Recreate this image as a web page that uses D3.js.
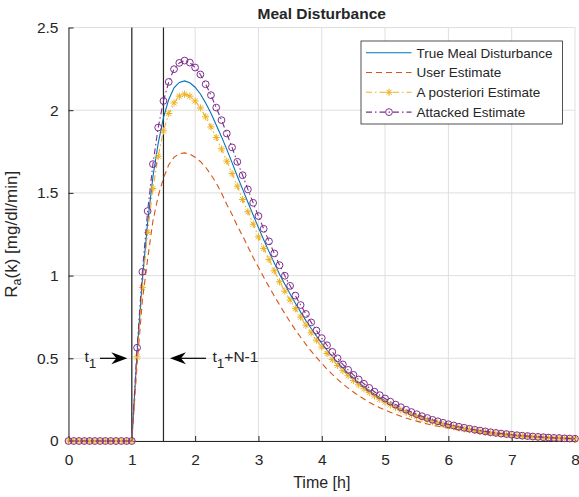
<!DOCTYPE html>
<html>
<head>
<meta charset="utf-8">
<script src="https://cdn.jsdelivr.net/npm/d3@7"></script>
<style>
body{margin:0;background:#fff}
text{font-family:"Liberation Sans",Arial,Helvetica,sans-serif;fill:#262626}
</style>
</head>
<body>
<script>
// samples every 5 min, 0 .. 8 h
var stepMin = 5
var nSamples = 97
var zeros = [0,0,0,0,0,0,0,0,0,0,0,0,0]

var trueRa = zeros.concat([
  0.535,0.975,1.32,1.597,1.80,1.955,2.065,2.135,2.168,2.177,
  2.166,2.139,2.098,2.043,1.981,1.911,1.840,1.763,1.683,1.601,
  1.523,1.443,1.366,1.290,1.217,1.145,1.076,1.008,0.948,0.889,
  0.833,0.779,0.728,0.680,0.634,0.590,0.549,0.511,0.476,0.442,
  0.411,0.381,0.354,0.329,0.305,0.283,0.263,0.244,0.226,0.209,
  0.194,0.180,0.166,0.154,0.143,0.132,0.122,0.113,0.105,0.096,
  0.089,0.082,0.076,0.070,0.065,0.060,0.055,0.051,0.047,0.043,
  0.040,0.036,0.033,0.031,0.028,0.026,0.024,0.022,0.020,0.018,
  0.017,0.016,0.014,0.013])

var userRa = zeros.concat([
  0.46,0.85,1.10,1.33,1.48,1.59,1.67,1.715,1.737,1.742,
  1.735,1.716,1.69,1.655,1.61,1.56,1.50,1.43,1.37,1.30,
  1.24,1.175,1.11,1.05,0.99,0.933,0.877,0.823,0.77,0.72,
  0.672,0.627,0.584,0.543,0.505,0.469,0.435,0.403,0.373,0.345,
  0.32,0.296,0.274,0.254,0.234,0.217,0.201,0.187,0.174,0.161,
  0.150,0.139,0.129,0.120,0.111,0.103,0.096,0.089,0.083,0.077,
  0.072,0.067,0.062,0.058,0.054,0.050,0.046,0.043,0.040,0.037,
  0.034,0.032,0.030,0.028,0.026,0.024,0.022,0.020,0.019,0.017,
  0.016,0.015,0.014,0.013])

var postRa = zeros.concat([
  0.509,0.929,1.261,1.527,1.722,1.875,1.98,2.044,2.085,2.097,
  2.085,2.056,2.014,1.96,1.899,1.835,1.766,1.692,1.617,1.541,
  1.46,1.386,1.311,1.234,1.164,1.098,1.029,0.963,0.906,0.852,
  0.800,0.749,0.700,0.654,0.610,0.568,0.529,0.492,0.457,0.425,
  0.395,0.366,0.340,0.316,0.293,0.272,0.253,0.235,0.218,0.202,
  0.187,0.173,0.160,0.148,0.137,0.127,0.117,0.109,0.101,0.093,
  0.086,0.079,0.073,0.068,0.063,0.058,0.053,0.049,0.045,0.042,
  0.039,0.035,0.032,0.030,0.028,0.025,0.023,0.021,0.020,0.018,
  0.017,0.015,0.014,0.013])

var attackRa = zeros.concat([
  0.564,1.023,1.39,1.674,1.895,2.056,2.171,2.248,2.286,2.30,
  2.288,2.258,2.216,2.157,2.091,2.016,1.94,1.859,1.775,1.688,
  1.607,1.521,1.44,1.36,1.283,1.207,1.134,1.063,0.999,0.938,
  0.879,0.822,0.768,0.717,0.668,0.622,0.579,0.539,0.50,0.463,
  0.43,0.40,0.372,0.346,0.321,0.298,0.277,0.257,0.238,0.220,
  0.204,0.189,0.175,0.162,0.150,0.139,0.128,0.119,0.110,0.101,
  0.094,0.086,0.080,0.074,0.068,0.063,0.058,0.053,0.049,0.045,
  0.042,0.038,0.035,0.032,0.030,0.027,0.025,0.023,0.021,0.019,
  0.018,0.016,0.015,0.014])

var xTicks = [0,1,2,3,4,5,6,7,8]
var yTicks = [0,0.5,1,1.5,2,2.5]
var windowLines = [1, 1.5]   // t1 and t1+N-1
var legendNames = ["True Meal Disturbance","User Estimate","A posteriori Estimate","Attacked Estimate"]

var times = d3.range(nSamples).map(function(k){return k*stepMin/60})

var W = 579, H = 497
var m = {left:68.5, right:4, top:27.5, bottom:56}

var svg = d3.select("body").append("svg").attr("width",W).attr("height",H)

var x = d3.scaleLinear().domain([0,8]).range([m.left, W-m.right])
var y = d3.scaleLinear().domain([0,2.5]).range([H-m.bottom, m.top])

// grid
svg.append("g").selectAll("line").data(xTicks).join("line")
  .attr("x1",d=>x(d)).attr("x2",d=>x(d)).attr("y1",y(0)).attr("y2",y(2.5))
  .attr("stroke","#dfdfdf").attr("stroke-width",1)
svg.append("g").selectAll("line").data(yTicks).join("line")
  .attr("x1",x(0)).attr("x2",x(8)).attr("y1",d=>y(d)).attr("y2",d=>y(d))
  .attr("stroke","#dfdfdf").attr("stroke-width",1)

// axes, ticks inside
var xAxis = svg.append("g").attr("transform","translate(0,"+y(0)+")")
  .call(d3.axisBottom(x).tickValues(xTicks).tickSizeInner(-5).tickSizeOuter(0).tickPadding(13))
var yAxis = svg.append("g").attr("transform","translate("+x(0)+",0)")
  .call(d3.axisLeft(y).tickValues(yTicks).tickSizeInner(-5).tickSizeOuter(0).tickPadding(10).tickFormat(d3.format("")))
;[xAxis,yAxis].forEach(function(a){
  a.select(".domain").attr("stroke","#262626").attr("stroke-width",1)
  a.selectAll(".tick line").attr("stroke","#262626")
  a.selectAll(".tick text").style("font-size","15.5px").style("font-family",'"Liberation Sans",Arial,sans-serif').attr("fill","#262626")
})

// vertical window lines
svg.append("g").selectAll("line").data(windowLines).join("line")
  .attr("x1",d=>x(d)).attr("x2",d=>x(d)).attr("y1",y(0)).attr("y2",y(2.5))
  .attr("stroke","#262626").attr("stroke-width",1.2)

function pts(vals){ return vals.map(function(v,i){return [times[i],v]}) }
var line = d3.line().x(d=>x(d[0])).y(d=>y(d[1]))

var starPath = function(s){
  var d = s*0.707
  return "M"+(-s)+",0L"+s+",0M0,"+(-s)+"L0,"+s+"M"+(-d)+","+(-d)+"L"+d+","+d+"M"+(-d)+","+d+"L"+d+","+(-d)
}

var series = [
  {vals:trueRa, color:"#0072BD", dash:null, marker:null},
  {vals:userRa, color:"#D95319", dash:"6,4", marker:null},
  {vals:postRa, color:"#EDB120", dash:"6,3,1.5,3", marker:"star"},
  {vals:attackRa, color:"#7E2F8E", dash:"6,3,1.5,3", marker:"circle"}
]

var plot = svg.append("g")
series.forEach(function(s){
  plot.append("path").datum(pts(s.vals)).attr("d",line)
    .attr("fill","none").attr("stroke",s.color).attr("stroke-width",1.1)
    .attr("stroke-dasharray",s.dash)
  if (s.marker=="star"){
    plot.append("g").selectAll("path").data(pts(s.vals)).join("path")
      .attr("transform",d=>"translate("+x(d[0])+","+y(d[1])+")")
      .attr("d",starPath(3.6)).attr("stroke",s.color).attr("stroke-width",1).attr("fill","none")
  } else if (s.marker=="circle"){
    plot.append("g").selectAll("circle").data(pts(s.vals)).join("circle")
      .attr("cx",d=>x(d[0])).attr("cy",d=>y(d[1])).attr("r",3.4)
      .attr("stroke",s.color).attr("stroke-width",1).attr("fill","none")
  }
})

// title and labels
svg.append("text").attr("x",(x(0)+x(8))/2).attr("y",19).attr("text-anchor","middle")
  .style("font-size","15.5px").style("font-weight","bold").attr("fill","#000").text("Meal Disturbance")
svg.append("text").attr("x",(x(0)+x(8))/2).attr("y",488).attr("text-anchor","middle")
  .style("font-size","16px").text("Time [h]")
var yl = svg.append("text").attr("transform","translate(17,"+((y(0)+y(2.5))/2)+") rotate(-90)")
  .attr("text-anchor","middle").style("font-size","17px")
yl.append("tspan").text("R")
yl.append("tspan").attr("baseline-shift","-30%").style("font-size","12.5px").text("a")
yl.append("tspan").text("(k) [mg/dl/min]")

// annotations t1 and t1+N-1
function arrow(x1,x2,yy){
  var g = svg.append("g")
  var dir = x2>x1?1:-1
  g.append("line").attr("x1",x1).attr("x2",x2-dir*8).attr("y1",yy).attr("y2",yy).attr("stroke","#000").attr("stroke-width",1.2)
  g.append("path").attr("d","M"+x2+","+yy+"L"+(x2-dir*16)+","+(yy-6)+"L"+(x2-dir*11)+","+yy+"L"+(x2-dir*16)+","+(yy+6)+"Z")
    .attr("fill","#000")
}
var ya = y(0.5)
arrow(100, x(1)-4.5, ya)
arrow(206, x(1.5)+6.5, ya)
var t1 = svg.append("text").attr("x",84.5).attr("y",ya+4).style("font-size","15.5px")
t1.append("tspan").text("t")
t1.append("tspan").attr("baseline-shift","-40%").style("font-size","13.5px").text("1")
var t2 = svg.append("text").attr("x",212.5).attr("y",ya+4).style("font-size","15.5px")
t2.append("tspan").text("t")
t2.append("tspan").attr("baseline-shift","-40%").style("font-size","13.5px").text("1")
t2.append("tspan").text("+N-1")

// legend
var lg = svg.append("g").attr("transform","translate(361,41)")
lg.append("rect").attr("width",201.5).attr("height",83).attr("fill","#fff").attr("stroke","#262626").attr("stroke-width",0.8)
series.forEach(function(s,i){
  var ry = 11.7 + i*19.8
  lg.append("line").attr("x1",5).attr("x2",50.5).attr("y1",ry).attr("y2",ry)
    .attr("stroke",s.color).attr("stroke-width",1.1).attr("stroke-dasharray",s.dash)
  if (s.marker=="star"){
    lg.append("path").attr("transform","translate(28,"+ry+")").attr("d",starPath(3.6)).attr("stroke",s.color).attr("fill","none")
  } else if (s.marker=="circle"){
    lg.append("circle").attr("cx",28).attr("cy",ry).attr("r",3.4).attr("stroke",s.color).attr("fill","none")
  }
  lg.append("text").attr("x",55.5).attr("y",ry+4.8).style("font-size","13.5px").text(legendNames[i])
})
</script>
</body>
</html>
